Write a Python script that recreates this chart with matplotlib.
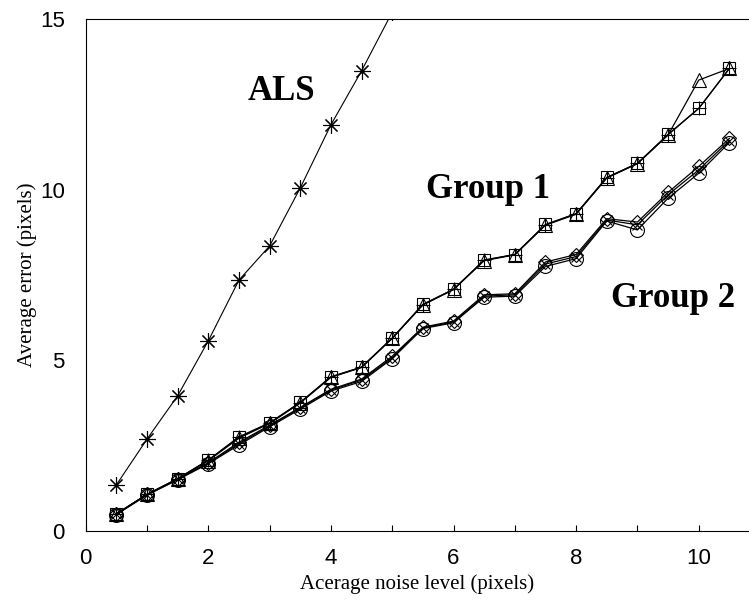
import numpy as np
import matplotlib
matplotlib.use('Agg')
import matplotlib.pyplot as plt

# noise levels (pixels)
noise = [0.5, 1.0, 1.5, 2.0, 2.5, 3.0, 3.5, 4.0, 4.5, 5.0, 5.5,
         6.0, 6.5, 7.0, 7.5, 8.0, 8.5, 9.0, 9.5, 10.0, 10.5]

# ALS only goes up to 5.0, the rest is off the chart
als_noise = [0.5, 1.0, 1.5, 2.0, 2.5, 3.0, 3.5, 4.0, 4.5, 5.0]
als = [1.35, 2.69, 3.96, 5.57, 7.35, 8.35, 10.05, 11.9, 13.48, 15.2]

# group 1
g1_square = [0.50, 1.07, 1.53, 2.08, 2.76, 3.17, 3.77, 4.52, 4.80, 5.65, 6.64,
             7.08, 7.94, 8.10, 8.98, 9.30, 10.36, 10.77, 11.62, 12.38, 13.55]
g1_triangle = [0.50, 1.07, 1.53, 2.06, 2.72, 3.15, 3.75, 4.50, 4.79, 5.64, 6.62,
               7.07, 7.92, 8.09, 8.96, 9.28, 10.34, 10.76, 11.60, 13.21, 13.55]
g1_plus = [0.50, 1.07, 1.53, 2.07, 2.74, 3.16, 3.76, 4.51, 4.80, 5.65, 6.63,
           7.08, 7.93, 8.10, 8.97, 9.29, 10.35, 10.77, 11.61, 12.38, 13.55]

# group 2
g2_circle = [0.48, 1.05, 1.50, 1.97, 2.52, 3.05, 3.57, 4.10, 4.38, 5.05, 5.93,
             6.10, 6.85, 6.88, 7.75, 7.98, 9.08, 8.82, 9.75, 10.48, 11.38]
g2_diamond = [0.50, 1.07, 1.52, 2.00, 2.60, 3.10, 3.62, 4.15, 4.45, 5.12, 5.97,
              6.15, 6.92, 6.95, 7.88, 8.10, 9.15, 9.05, 9.92, 10.68, 11.50]
g2_cross = [0.49, 1.06, 1.51, 1.99, 2.56, 3.08, 3.60, 4.13, 4.42, 5.08, 5.95,
            6.12, 6.88, 6.92, 7.82, 8.04, 9.11, 8.97, 9.85, 10.58, 11.44]

serif = ['Liberation Serif', 'DejaVu Serif']
sans = ['Liberation Sans', 'DejaVu Sans']

fig = plt.figure(figsize=(7.49, 6.01), dpi=100)
ax = fig.add_axes([0.1144, 0.1165, 0.8856, 0.8519])

ax.plot(als_noise, als, color='black', lw=0.8, marker=(8, 2, 0), ms=12,
        mew=0.8, clip_on=True)

kw = dict(color='black', lw=0.9, mfc='none', mew=0.8)
ax.plot(noise, g1_triangle, marker='^', ms=10, **kw)
ax.plot(noise, g1_square, marker='s', ms=9, **kw)
ax.plot(noise, g1_plus, marker='+', ms=10, **kw)

ax.plot(noise, g2_circle, marker='o', ms=10, **kw)
ax.plot(noise, g2_diamond, marker='D', ms=7, **kw)
ax.plot(noise, g2_cross, marker='x', ms=7, **kw)

ax.text(3.20, 12.63, 'ALS', ha='center', va='baseline', fontsize=25,
        fontweight='bold', family=serif)
ax.text(6.56, 9.76, 'Group 1', ha='center', va='baseline', fontsize=25,
        fontweight='bold', family=serif)
ax.text(9.58, 6.56, 'Group 2', ha='center', va='baseline', fontsize=25,
        fontweight='bold', family=serif)

ax.set_xlim(0, 10.82)
ax.set_ylim(0, 15)
ax.set_xticks(np.arange(0, 11, 1))
ax.set_xticklabels(['0', '', '2', '', '4', '', '6', '', '8', '', '10'])
ax.set_yticks([0, 5, 10, 15])
ax.tick_params(axis='x', direction='in', length=4, width=0.8, pad=12,
               labelsize=16)
ax.tick_params(axis='y', length=0, pad=15, labelsize=16)
for lab in ax.get_xticklabels() + ax.get_yticklabels():
    lab.set_family(sans)

ax.spines['right'].set_visible(False)
for s in ['left', 'bottom', 'top']:
    ax.spines[s].set_linewidth(0.8)

ax.set_xlabel('Acerage noise level (pixels)', fontsize=15, family=serif,
              labelpad=4)
ax.set_ylabel('Average error (pixels)', fontsize=15, family=serif,
              labelpad=2)

fig.savefig('out.png', dpi=100)
